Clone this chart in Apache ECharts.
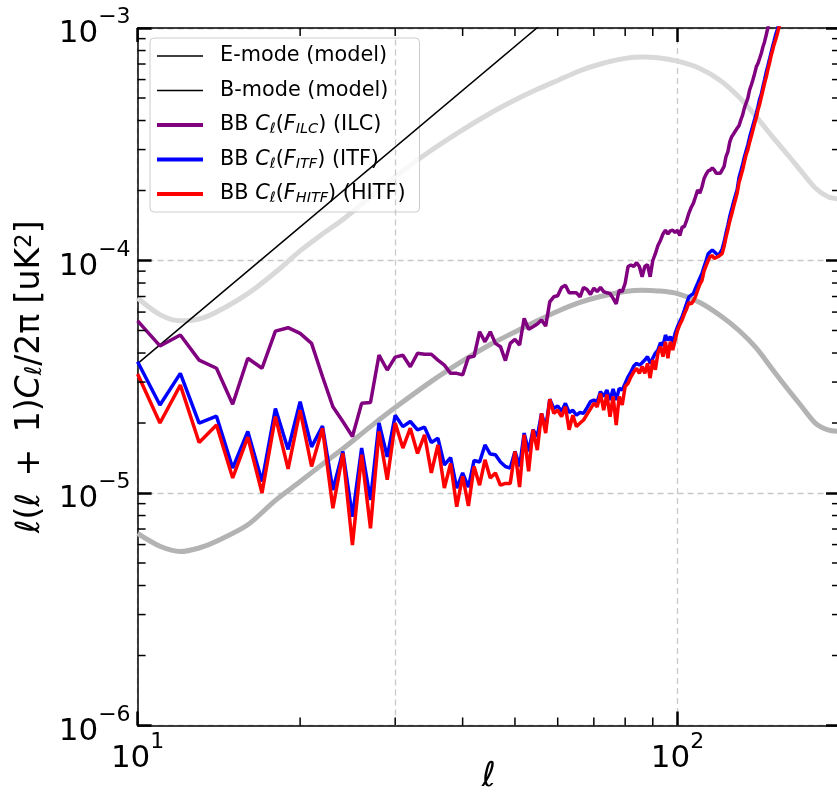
<!DOCTYPE html>
<html>
<head>
<meta charset="utf-8">
<script src="https://cdn.jsdelivr.net/npm/echarts@6/dist/echarts.min.js"></script>
<style>html,body{margin:0;padding:0;background:#fff}#c{width:837px;height:796px}</style>
</head>
<body>
<div id="c"></div>
<script>
// ---- data ----
const ellStart = 10; // first multipole of the measured spectra, one value per integer ell
const ilc = [5.5e-5,4.29e-5,4.78e-5,3.73e-5,3.44e-5,2.41e-5,3.8e-5,3.44e-5,4.97e-5,5.14e-5,
  4.86e-5,4.4e-5,3.17e-5,2.35e-5,2.03e-5,1.75e-5,2.43e-5,2.45e-5,3.92e-5,3.38e-5,
  3.84e-5,3.91e-5,3.49e-5,3.99e-5,3.95e-5,3.95e-5,3.73e-5,3.55e-5,3.27e-5,3.27e-5,
  3.22e-5,3.84e-5,3.87e-5,4.94e-5,4.47e-5,4.94e-5,4.4e-5,4.26e-5,3.71e-5,4.4e-5,
  4.58e-5,4.33e-5,5.64e-5,5.06e-5,5.19e-5,5.33e-5,5.55e-5,5.22e-5,6.64e-5,6.98e-5,
  7.05e-5,7.66e-5,7.83e-5,7.26e-5,7.26e-5,7.26e-5,6.98e-5,7.66e-5,7.5e-5,7.15e-5,
  7.6e-5,7.35e-5,7.66e-5,7.35e-5,7.26e-5,7.21e-5,6.87e-5,6.5e-5,7.46e-5,7.35e-5,
  7.98e-5,9.42e-5,9.57e-5,9.42e-5,9.79e-5,9.42e-5,8.51e-5,9.42e-5,9.6e-5,8.51e-5,
  1.0e-4,1.07e-4,1.16e-4,1.22e-4,1.3e-4,1.35e-4,1.3e-4,1.34e-4,1.35e-4,1.32e-4,
  1.35e-4,1.28e-4,1.39e-4,1.4e-4,1.49e-4,1.6e-4,1.69e-4,1.76e-4,1.88e-4,2.01e-4,
  1.95e-4,2.07e-4,2.25e-4,2.35e-4,2.43e-4,2.45e-4,2.5e-4,2.45e-4,2.37e-4,2.35e-4,
  2.37e-4,2.39e-4,2.54e-4,2.8e-4,2.94e-4,3.24e-4,3.41e-4,3.5e-4,3.5e-4,3.71e-4,
  3.8e-4,4.02e-4,4.22e-4,4.52e-4,4.75e-4,4.99e-4,5.41e-4,5.69e-4,6.01e-4,6.38e-4,
  6.82e-4,7.05e-4,7.41e-4,7.79e-4,8.31e-4,8.73e-4,9.33e-4,1.0e-3,1.06e-3,1.12e-3,1.18e-3];
const itf = [3.67e-5,2.39e-5,3.27e-5,2.0e-5,2.14e-5,1.28e-5,1.84e-5,1.12e-5,2.31e-5,1.54e-5,
  2.47e-5,1.58e-5,1.94e-5,1.03e-5,1.51e-5,7.91e-6,1.56e-5,9.33e-6,2.0e-5,1.43e-5,
  2.16e-5,1.93e-5,2.03e-5,1.87e-5,1.92e-5,1.65e-5,1.72e-5,1.32e-5,1.42e-5,1.05e-5,
  1.22e-5,1.06e-5,1.38e-5,1.36e-5,1.61e-5,1.47e-5,1.46e-5,1.36e-5,1.3e-5,1.28e-5,
  1.51e-5,1.3e-5,1.81e-5,1.51e-5,1.87e-5,1.75e-5,2.2e-5,1.9e-5,2.53e-5,2.31e-5,
  2.37e-5,2.24e-5,2.43e-5,2.22e-5,2.27e-5,2.16e-5,2.22e-5,2.2e-5,2.33e-5,2.47e-5,
  2.51e-5,2.47e-5,2.73e-5,2.6e-5,2.77e-5,2.51e-5,2.8e-5,2.51e-5,2.82e-5,2.77e-5,
  2.96e-5,3.16e-5,3.32e-5,3.52e-5,3.61e-5,3.55e-5,3.63e-5,3.73e-5,3.86e-5,3.61e-5,
  3.8e-5,4.0e-5,4.12e-5,4.43e-5,4.3e-5,4.78e-5,4.54e-5,4.7e-5,4.45e-5,4.86e-5,
  5.19e-5,5.46e-5,5.73e-5,6.12e-5,6.54e-5,6.98e-5,7.1e-5,7.2e-5,7.6e-5,7.98e-5,
  8.4e-5,8.8e-5,9.4e-5,1.0e-4,1.07e-4,1.09e-4,1.11e-4,1.09e-4,1.07e-4,1.05e-4,
  1.08e-4,1.12e-4,1.2e-4,1.31e-4,1.42e-4,1.55e-4,1.66e-4,1.78e-4,1.9e-4,2.02e-4,
  2.27e-4,2.42e-4,2.58e-4,2.78e-4,2.96e-4,3.14e-4,3.38e-4,3.6e-4,3.82e-4,4.05e-4,
  4.3e-4,4.6e-4,4.95e-4,5.2e-4,5.6e-4,6.0e-4,6.45e-4,6.85e-4,7.3e-4,7.8e-4,
  8.3e-4,8.8e-4,9.35e-4,9.8e-4,1.04e-3,1.09e-3,1.15e-3];
const hitf = [3.25e-5,2.0e-5,2.91e-5,1.65e-5,1.96e-5,1.16e-5,1.74e-5,1.0e-5,2.13e-5,1.27e-5,
  2.27e-5,1.3e-5,1.9e-5,8.6e-6,1.48e-5,5.97e-6,1.46e-5,7.05e-6,1.84e-5,1.14e-5,
  2.0e-5,1.56e-5,1.9e-5,1.48e-5,1.78e-5,1.22e-5,1.61e-5,1.05e-5,1.34e-5,8.73e-6,
  1.18e-5,8.8e-6,1.3e-5,1.08e-5,1.39e-5,1.16e-5,1.22e-5,1.08e-5,1.1e-5,1.1e-5,
  1.51e-5,1.06e-5,1.78e-5,1.24e-5,1.87e-5,1.53e-5,2.2e-5,1.81e-5,2.53e-5,2.2e-5,
  2.27e-5,2.13e-5,2.35e-5,1.87e-5,2.16e-5,1.93e-5,2.0e-5,2.06e-5,2.18e-5,2.3e-5,
  2.43e-5,2.35e-5,2.68e-5,2.27e-5,2.65e-5,2.13e-5,2.6e-5,1.96e-5,2.6e-5,2.39e-5,
  2.87e-5,2.96e-5,3.16e-5,3.32e-5,3.44e-5,3.27e-5,3.5e-5,3.27e-5,3.61e-5,3.12e-5,
  3.73e-5,3.39e-5,4.0e-5,4.26e-5,3.86e-5,4.47e-5,3.8e-5,4.47e-5,4.12e-5,4.54e-5,
  5.0e-5,5.3e-5,5.55e-5,5.9e-5,6.2e-5,6.6e-5,6.5e-5,6.7e-5,7.0e-5,7.46e-5,
  7.9e-5,8.2e-5,9.0e-5,9.5e-5,1.0e-4,1.04e-4,1.05e-4,1.02e-4,1.03e-4,1.04e-4,
  1.05e-4,1.07e-4,1.15e-4,1.26e-4,1.36e-4,1.48e-4,1.58e-4,1.7e-4,1.82e-4,1.95e-4,
  2.16e-4,2.3e-4,2.45e-4,2.65e-4,2.85e-4,3.0e-4,3.22e-4,3.42e-4,3.65e-4,3.9e-4,
  4.12e-4,4.45e-4,4.7e-4,5.05e-4,5.4e-4,5.8e-4,6.15e-4,6.6e-4,7.05e-4,7.55e-4,
  8.0e-4,8.5e-4,8.9e-4,9.4e-4,1.0e-3,1.05e-3,1.1e-3];
const modelEll = [10,11,12,13,14,16,18,20,22,24,27,30,35,40,45,50,55,60,66,72,80,86,92,100,110,120,130,140,150,160,170,180,190,200];
const eModel = [6.9e-5,5.85e-5,5.5e-5,5.6e-5,6.0e-5,7.2e-5,8.9e-5,1.1e-4,1.3e-4,1.5e-4,1.88e-4,2.3e-4,2.98e-4,3.65e-4,4.3e-4,4.9e-4,5.45e-4,5.95e-4,6.55e-4,7.0e-4,7.4e-4,7.5e-4,7.45e-4,7.2e-4,6.7e-4,5.95e-4,5.05e-4,4.15e-4,3.4e-4,2.85e-4,2.4e-4,2.05e-4,1.88e-4,1.84e-4];
const bModel = [6.7e-6,5.9e-6,5.6e-6,5.8e-6,6.2e-6,7.3e-6,9.3e-6,1.12e-5,1.33e-5,1.55e-5,1.93e-5,2.33e-5,3.02e-5,3.7e-5,4.35e-5,4.93e-5,5.5e-5,6.05e-5,6.6e-5,7.0e-5,7.35e-5,7.45e-5,7.4e-5,7.2e-5,6.6e-5,5.8e-5,5.0e-5,4.2e-5,3.4e-5,2.8e-5,2.35e-5,2.0e-5,1.87e-5,1.84e-5];
const refLineEll = [10, 60];
const refLineVal = [3.6e-5, 1.19e-3];
const xRange = [10, 200];
const yRange = [1e-6, 1e-3];
const xMinorTicks = [20,30,40,50,60,70,80,90];
const yMinorTicks = [2e-6,3e-6,4e-6,5e-6,6e-6,7e-6,8e-6,9e-6,2e-5,3e-5,4e-5,5e-5,6e-5,7e-5,8e-5,9e-5,2e-4,3e-4,4e-4,5e-4,6e-4,7e-4,8e-4,9e-4];
const markedEll = [30];
const seriesNames = ['E-mode (model)','B-mode (model)','BB C_l(F_ILC) (ILC)','BB C_l(F_ITF) (ITF)','BB C_l(F_HITF) (HITF)'];

// ---- helpers ----
const FONT = 'DejaVu Sans';
const pairs = (xs, ys) => ys.map((v, i) => [xs[i], v]);
const byEll = ys => ys.map((v, i) => [ellStart + i, v]);
function powLabel(v) {
  const l = Math.log10(v), e = Math.round(l);
  if (Math.abs(l - e) > 1e-6) return '';
  return '{b|10}{p|' + (e < 0 ? '\u2212' + (-e) : e) + '}';
}
const tickRich = {
  b: {fontSize: 31, fontFamily: FONT, color: '#000', lineHeight: 43, verticalAlign: 'bottom'},
  p: {fontSize: 22, fontFamily: FONT, color: '#000', lineHeight: 22, verticalAlign: 'top'}
};
const legendFmt = {
  'E-mode (model)': 'E-mode (model)',
  'B-mode (model)': 'B-mode (model)',
  'BB C_l(F_ILC) (ILC)': 'BB {i|C}{s|\u2113}({i|F}{s|ILC}) (ILC)',
  'BB C_l(F_ITF) (ITF)': 'BB {i|C}{s|\u2113}({i|F}{s|ITF}) (ITF)',
  'BB C_l(F_HITF) (HITF)': 'BB {i|C}{s|\u2113}({i|F}{s|HITF}) (HITF)'
};
const thinIcon = 'path://M0,0L46,0L46,1.5L0,1.5Z';
const thickIcon = 'path://M0,0L46,0L46,4L0,4Z';

const chart = echarts.init(document.getElementById('c'), null, {renderer: 'canvas'});

function xTickItem(params, api) {
  const v = api.value(0);
  const b = api.coord([v, yRange[0]]);
  const t = api.coord([v, yRange[1]]);
  const st = {stroke: '#000', lineWidth: 1.5};
  return {type: 'group', children: [
    {type: 'line', shape: {x1: b[0], y1: b[1], x2: b[0], y2: b[1] - 8}, style: st},
    {type: 'line', shape: {x1: t[0], y1: t[1], x2: t[0], y2: t[1] + 8}, style: st}
  ]};
}
function yTickItem(params, api) {
  const v = api.value(1);
  const l = api.coord([xRange[0], v]);
  const r = api.coord([xRange[1], v]);
  const st = {stroke: '#000', lineWidth: 1.5};
  return {type: 'group', children: [
    {type: 'line', shape: {x1: l[0], y1: l[1], x2: l[0] + 8, y2: l[1]}, style: st},
    {type: 'line', shape: {x1: r[0], y1: r[1], x2: r[0] - 8, y2: r[1]}, style: st}
  ]};
}

const axisCommonX = {
  type: 'log', logBase: 10, min: xRange[0], max: xRange[1],
  axisLine: {show: true, lineStyle: {color: '#000', width: 1.5}},
  axisTick: {show: true, inside: true, length: 14, lineStyle: {color: '#000', width: 2.5}},
  minorTick: {show: false}
};
const axisCommonY = {
  type: 'log', logBase: 10, min: yRange[0], max: yRange[1],
  axisLine: {show: true, lineStyle: {color: '#000', width: 1.5}},
  axisTick: {show: true, inside: true, length: 14, lineStyle: {color: '#000', width: 2.5}},
  minorTick: {show: false}
};
const gridLine = {color: '#c8c8c8', width: 1.3, type: [6, 4]};

chart.setOption({
  animation: false,
  backgroundColor: '#fff',
  grid: {left: 137.6, right: -3, top: 28, bottom: 70.5, containLabel: false, outerBoundsMode: 'none'},
  legend: {
    orient: 'vertical', left: 150, top: 38,
    padding: [6, 14, 6, 7],
    itemWidth: 46, itemHeight: 14, itemGap: 10.5,
    backgroundColor: 'rgba(255,255,255,0.8)', borderColor: '#cccccc', borderWidth: 1, borderRadius: 4,
    formatter: n => legendFmt[n] || n,
    textStyle: {
      fontFamily: FONT, fontSize: 20.8, color: '#000', lineHeight: 24, padding: [0, 0, 0, 12],
      rich: {
        i: {fontFamily: FONT, fontSize: 20.8, fontStyle: 'italic', color: '#000', lineHeight: 24},
        s: {fontFamily: FONT, fontSize: 14.5, fontStyle: 'italic', color: '#000', lineHeight: 14, verticalAlign: 'bottom'}
      }
    },
    data: [
      {name: seriesNames[0], icon: thinIcon, itemStyle: {color: '#000'}},
      {name: seriesNames[1], icon: thinIcon, itemStyle: {color: '#000'}},
      {name: seriesNames[2], icon: thickIcon, itemStyle: {color: '#800080'}},
      {name: seriesNames[3], icon: thickIcon, itemStyle: {color: '#0000ff'}},
      {name: seriesNames[4], icon: thickIcon, itemStyle: {color: '#ff0000'}}
    ]
  },
  xAxis: [
    Object.assign({}, axisCommonX, {
      position: 'bottom',
      name: '\u2113', nameLocation: 'middle', nameGap: 35, nameMoveOverlap: false,
      nameTextStyle: {fontFamily: FONT, fontSize: 34, fontStyle: 'italic', color: '#000', verticalAlign: 'top'},
      axisLabel: {show: true, margin: 6, formatter: powLabel, rich: tickRich, showMinLabel: true, showMaxLabel: true, hideOverlap: false},
      splitLine: {show: true, lineStyle: gridLine}
    }),
    Object.assign({}, axisCommonX, {position: 'top', axisLabel: {show: false}, splitLine: {show: false}})
  ],
  yAxis: [
    Object.assign({}, axisCommonY, {
      position: 'left',
      name: '{i|\u2113}({i|\u2113}\u2002+\u20021){i|C}{s|\u2113}/2\u03c0 [uK{p|2}]',
      nameLocation: 'middle', nameGap: 91, nameRotate: 90, nameMoveOverlap: false,
      nameTextStyle: {
        fontFamily: FONT, fontSize: 33, color: '#000',
        rich: {
          i: {fontFamily: FONT, fontSize: 33, fontStyle: 'italic', color: '#000'},
          s: {fontFamily: FONT, fontSize: 23, fontStyle: 'italic', color: '#000', verticalAlign: 'bottom', lineHeight: 20},
          p: {fontFamily: FONT, fontSize: 23, color: '#000', verticalAlign: 'top', lineHeight: 20}
        }
      },
      axisLabel: {show: true, margin: 7, formatter: powLabel, rich: tickRich, showMinLabel: true, showMaxLabel: true, hideOverlap: false},
      splitLine: {show: true, lineStyle: gridLine}
    }),
    Object.assign({}, axisCommonY, {position: 'right', axisLabel: {show: false}, splitLine: {show: false}})
  ],
  series: [
    {
      name: seriesNames[0], type: 'line', data: pairs(modelEll, eModel), smooth: 0.3,
      showSymbol: false, symbol: 'none', z: 2,
      lineStyle: {color: '#d9d9d9', width: 5}, itemStyle: {color: '#d9d9d9'},
      markLine: {silent: true, symbol: 'none', label: {show: false},
        lineStyle: gridLine,
        data: markedEll.map(v => ({xAxis: v}))}
    },
    {
      name: seriesNames[1], type: 'line', data: pairs(modelEll, bModel), smooth: 0.3,
      showSymbol: false, symbol: 'none', z: 3,
      lineStyle: {color: '#b3b3b3', width: 5}, itemStyle: {color: '#b3b3b3'}
    },
    {
      name: 'ref', type: 'line', data: pairs(refLineEll, refLineVal),
      showSymbol: false, symbol: 'none', z: 4,
      lineStyle: {color: '#000', width: 1.5}
    },
    {
      name: seriesNames[2], type: 'line', data: byEll(ilc),
      showSymbol: false, symbol: 'none', z: 5,
      lineStyle: {color: '#800080', width: 3.5}, itemStyle: {color: '#800080'}
    },
    {
      name: seriesNames[3], type: 'line', data: byEll(itf),
      showSymbol: false, symbol: 'none', z: 6,
      lineStyle: {color: '#0000ff', width: 3.5}, itemStyle: {color: '#0000ff'}
    },
    {
      name: seriesNames[4], type: 'line', data: byEll(hitf),
      showSymbol: false, symbol: 'none', z: 7,
      lineStyle: {color: '#ff0000', width: 3.5}, itemStyle: {color: '#ff0000'}
    },
    {
      type: 'custom', z: 20, clip: false, silent: true,
      data: xMinorTicks.map(v => [v, yRange[0]]),
      encode: {x: 0, y: 1}, renderItem: xTickItem
    },
    {
      type: 'custom', z: 20, clip: false, silent: true,
      data: yMinorTicks.map(v => [xRange[0], v]),
      encode: {x: 0, y: 1}, renderItem: yTickItem
    }
  ]
});
</script>
</body>
</html>
